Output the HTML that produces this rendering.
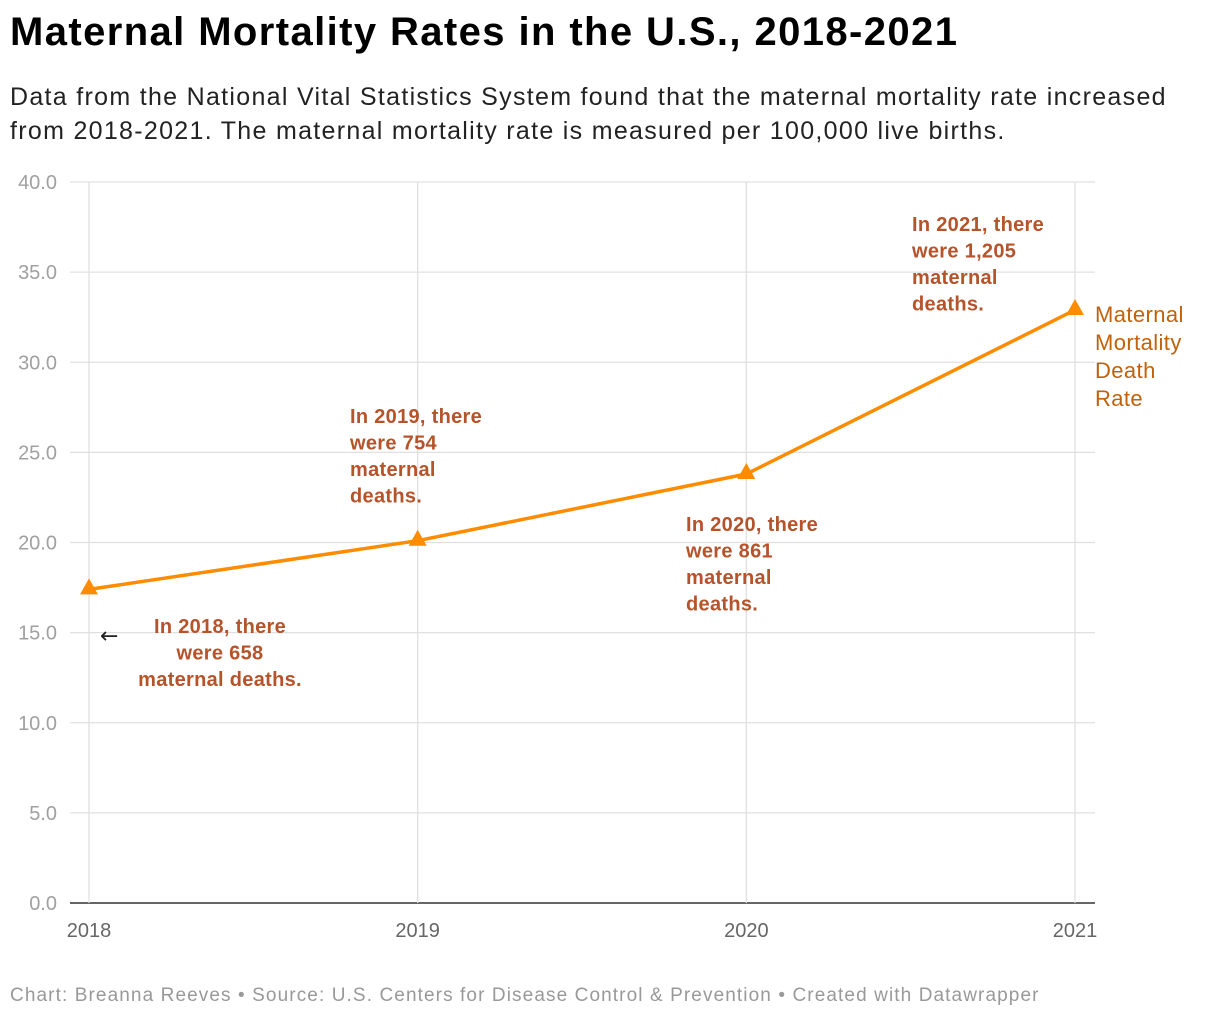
<!DOCTYPE html>
<html><head><meta charset="utf-8">
<style>
body{margin:0;background:#fff;font-family:"Liberation Sans",sans-serif;width:1220px;height:1020px;overflow:hidden;position:relative}
h1{position:absolute;left:10px;top:10px;margin:0;font-size:40px;font-weight:bold;color:#000;letter-spacing:1.4px;white-space:nowrap}
.sub{position:absolute;left:10px;top:80px;font-size:25px;line-height:34px;color:#222;width:1200px;letter-spacing:1.3px;white-space:nowrap}
.foot{position:absolute;left:10px;top:985px;font-size:19px;color:#999;letter-spacing:1.1px;white-space:nowrap}
svg{position:absolute;left:0;top:0}
</style></head><body>
<h1>Maternal Mortality Rates in the U.S., 2018-2021</h1>
<div class="sub">Data from the National Vital Statistics System found that the maternal mortality rate increased<br>from 2018-2021. The maternal mortality rate is measured per 100,000 live births.</div>
<svg id="chart" width="1220" height="1020"></svg>
<div class="foot">Chart: Breanna Reeves • Source: U.S. Centers for Disease Control &amp; Prevention • Created with Datawrapper</div>
<script>
const years = ["2018","2019","2020","2021"];
const rates = [17.4, 20.1, 23.8, 32.9];
const yTicks = [0,5,10,15,20,25,30,35,40];
const annotations = ["In 2018, there|were 658|maternal deaths.","In 2019, there|were 754|maternal|deaths.","In 2020, there|were 861|maternal|deaths.","In 2021, there|were 1,205|maternal|deaths."];

const NS="http://www.w3.org/2000/svg";
const svg=document.getElementById('chart');
const x=i=>89+i*(1075-89)/(years.length-1);
const y=v=>903-v*(903-182)/40;
function mk(t,a,p){const e=document.createElementNS(NS,t);for(const k in a)e.setAttribute(k,a[k]);(p||svg).appendChild(e);return e;}

yTicks.forEach(v=>{
  const g=mk('line',{x1:70,x2:1095,y1:y(v),y2:y(v),stroke:v===0?'#333':'#e0e0e0','stroke-width':v===0?1.5:1.3});
  
  
  const t=mk('text',{x:57,y:y(v)+7,'text-anchor':'end','font-size':20,fill:'#a0a0a0','font-family':'Liberation Sans'});
  t.textContent=v.toFixed(1);
  
  
});
years.forEach((yr,i)=>{
  const g=mk('line',{x1:x(i),x2:x(i),y1:182,y2:903,stroke:'#e0e0e0','stroke-width':1.3});
  
  
  const t=mk('text',{x:x(i),y:937,'text-anchor':'middle','font-size':20,fill:'#666','font-family':'Liberation Sans'});
  t.textContent=yr;
  
  
});
const line=mk('polyline',{points:rates.map((v,i)=>x(i)+','+y(v)).join(' '),fill:'none',stroke:'#ff8c00','stroke-width':3.5,'stroke-linejoin':'round'});


rates.forEach((v,i)=>{
  const cx=x(i),cy=y(v)-2;
  const m=mk('polygon',{points:`${cx-9},${cy+7} ${cx+9},${cy+7} ${cx},${cy-9}`,fill:'#ff8c00'});
  
  
});
const lbl=mk('text',{x:1095,y:322,'font-size':22,fill:'#c0620a','font-family':'Liberation Sans','letter-spacing':0.4});


["Maternal","Mortality","Death","Rate"].forEach((s,i)=>{const ts=mk('tspan',{x:1095,dy:i?28:0},lbl);ts.textContent=s;});

const annPos=[[220,633,'middle'],[350,423,'start'],[686,531,'start'],[912,231,'start']];
annotations.forEach((a,i)=>{
  const [ax,ay,anc]=annPos[i];
  const t=mk('text',{x:ax,y:ay,'text-anchor':anc,'font-size':20,'font-weight':'bold',fill:'#b5532a','font-family':'Liberation Sans','letter-spacing':0.3});
  
  
  a.split('|').forEach((s,j)=>{const ts=mk('tspan',{x:ax,dy:j?26.5:0},t);ts.textContent=s;});
});
const arr=mk('text',{x:100,y:643,'font-size':22,fill:'#222','font-family':'DejaVu Sans'});
arr.textContent='←';


</script>
</body></html>
